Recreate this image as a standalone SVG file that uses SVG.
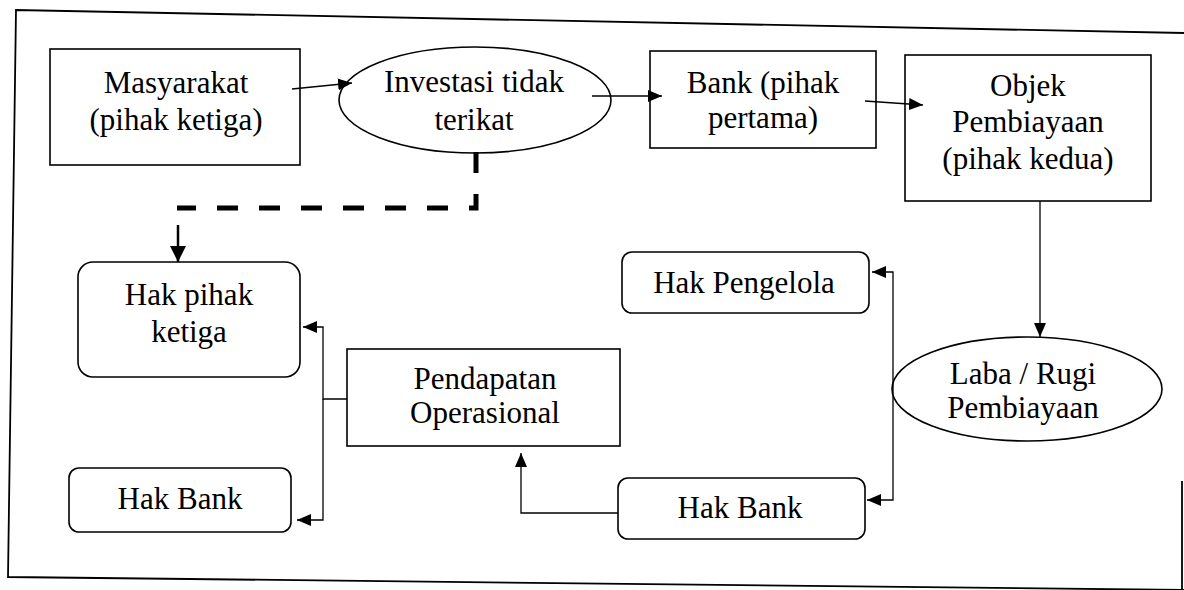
<svg xmlns="http://www.w3.org/2000/svg" width="1184" height="590" viewBox="0 0 1184 590">
<style>
.box{fill:#fff;stroke:#000;stroke-width:1.6}
.t{font-family:"Liberation Serif","Times New Roman",serif;font-size:31px;fill:#000;text-anchor:middle}
.c{fill:none;stroke:#000;stroke-width:1.3}
.frame{fill:none;stroke:#000;stroke-width:1.8}
</style>
<defs>
<marker id="ah" markerUnits="userSpaceOnUse" markerWidth="14" markerHeight="12" viewBox="0 0 14 12" refX="14" refY="6" orient="auto">
<path d="M0,0 L14,6 L0,12 z" fill="#000"/>
</marker>
<marker id="ahb" markerUnits="userSpaceOnUse" markerWidth="16" markerHeight="16" viewBox="0 0 16 16" refX="16" refY="8" orient="auto">
<path d="M0,0 L16,8 L0,16 z" fill="#000"/>
</marker>
</defs>
<rect width="1184" height="590" fill="#fff"/>
<g id="frame">
<path class="frame" d="M1184,33 L16,10 L8,577 L1184,590"/>
<path class="frame" d="M1182,481 V590"/>
</g>
<g id="masyarakat">
<rect class="box" x="50" y="49" width="250" height="116"/>
<text class="t" x="176" y="93">Masyarakat</text>
<text class="t" x="176" y="130">(pihak ketiga)</text>
</g>
<g id="investasi">
<ellipse class="box" cx="475" cy="100" rx="136" ry="53"/>
<text class="t" x="474" y="92">Investasi tidak</text>
<text class="t" x="474" y="130">terikat</text>
</g>
<g id="bank">
<rect class="box" x="650" y="51" width="226" height="97"/>
<text class="t" x="763" y="93">Bank (pihak</text>
<text class="t" x="763" y="128">pertama)</text>
</g>
<g id="objek">
<rect class="box" x="905" y="55" width="246" height="146"/>
<text class="t" x="1028" y="96">Objek</text>
<text class="t" x="1028" y="132">Pembiayaan</text>
<text class="t" x="1028" y="169">(pihak kedua)</text>
</g>
<g id="hak-pihak-ketiga">
<rect class="box" x="78" y="262" width="222" height="115" rx="15"/>
<text class="t" x="189" y="305">Hak pihak</text>
<text class="t" x="189" y="342">ketiga</text>
</g>
<g id="hak-bank-kiri">
<rect class="box" x="69" y="468" width="222" height="64" rx="10"/>
<text class="t" x="180" y="509">Hak Bank</text>
</g>
<g id="pendapatan">
<rect class="box" x="347" y="349" width="273" height="97"/>
<text class="t" x="485" y="389">Pendapatan</text>
<text class="t" x="485" y="423">Operasional</text>
</g>
<g id="hak-pengelola">
<rect class="box" x="622" y="252" width="247" height="61" rx="10"/>
<text class="t" x="744" y="293">Hak Pengelola</text>
</g>
<g id="laba-rugi">
<ellipse class="box" cx="1027" cy="389" rx="135" ry="52"/>
<text class="t" x="1023" y="384">Laba / Rugi</text>
<text class="t" x="1023" y="418">Pembiayaan</text>
</g>
<g id="hak-bank-kanan">
<rect class="box" x="618" y="478" width="247" height="61" rx="10"/>
<text class="t" x="740" y="518">Hak Bank</text>
</g>
<g id="connectors">
<path class="c" d="M292,89 L352,83" marker-end="url(#ah)"/>
<path class="c" d="M592,96 L662,96" marker-end="url(#ah)"/>
<path class="c" d="M865,101 L923,105" marker-end="url(#ah)"/>
<path class="c" d="M1040,201 V337" stroke-width="1" marker-end="url(#ah)"/>
<path d="M476,152 V208 H177" fill="none" stroke="#000" stroke-width="5" stroke-dasharray="21 21"/>
<path d="M178,225 V262" fill="none" stroke="#000" stroke-width="2.5" marker-end="url(#ahb)"/>
<path class="c" d="M893,389 V272 H872" marker-end="url(#ah)"/>
<path class="c" d="M893,389 V500 H867" marker-end="url(#ah)"/>
<path class="c" d="M618,513 H521 V453" marker-end="url(#ah)"/>
<path class="c" d="M347,399 H323 V327 H303" stroke-width="1.8" marker-end="url(#ah)"/>
<path class="c" d="M323,399 V520 H297" stroke-width="1.8" marker-end="url(#ah)"/>
</g>
</svg>
